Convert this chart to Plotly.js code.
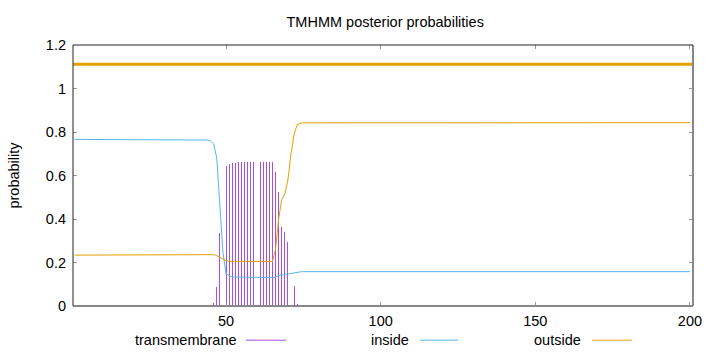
<!DOCTYPE html>
<html>
<head>
<meta charset="utf-8">
<script src="https://cdn.plot.ly/plotly-3.0.1.min.js"></script>
<style>html,body{margin:0;padding:0;background:#fff;}#chart{width:720px;height:352px;}</style>
</head>
<body>
<div id="chart"></div>
<script>
// ---- data ----
const seriesNames = ["transmembrane", "inside", "outside"];

// transmembrane posterior (impulses)
const tmX = [44,45,46,47,48,49,50,51,52,53,54,55,56,57,58,59,60,61,62,63,64,65,66,67,68,69,70,71,72,73,74];
const tmY = [0.003,0.005,0.012,0.088,0.335,0.54,0.644,0.655,0.658,0.659,0.661,0.661,0.661,0.661,0.662,0.664,0.664,0.664,0.664,0.664,0.664,0.662,0.616,0.525,0.365,0.342,0.292,0.19,0.091,0.01,0.003];

// inside posterior
const inX = [1,42,43,44,45,46,47,48,49,50,51,52,65,66,67,68,69,70,71,72,73,74,75,200];
const inY = [0.766,0.766,0.765,0.763,0.758,0.745,0.68,0.44,0.245,0.148,0.139,0.133,0.131,0.133,0.140,0.144,0.145,0.147,0.150,0.153,0.156,0.157,0.158,0.158];

// outside posterior
const outX = [1,44,45,46,47,48,49,50,51,52,65,66,67,68,69,70,71,72,73,74,75,200];
const outY = [0.234,0.234,0.235,0.236,0.232,0.225,0.215,0.208,0.206,0.205,0.205,0.26,0.40,0.49,0.515,0.58,0.70,0.79,0.834,0.84,0.842,0.843];

// predicted topology bar (outside over the whole sequence)
const topoX = [0.5, 201];
const topoY = [1.111, 1.111];

const xTicks = [50, 100, 150, 200];
const yTicks = [0, 0.2, 0.4, 0.6, 0.8, 1, 1.2];
const yTickText = ["0", "0.2", "0.4", "0.6", "0.8", "1", "1.2"];

// ---- style ----
const colTM = "#a94fe0";
const colIn = "#56b4e9";
const colOut = "#e69f00";
const FONT = "Liberation Sans, Arial, sans-serif";
const FS = 14.5;

const traces = [
  {type: "bar", x: tmX, y: tmY, width: 0.3, name: seriesNames[0],
   marker: {color: colTM, line: {width: 0}}, showlegend: false, hoverinfo: "x+y"},
  {type: "scatter", mode: "lines", x: inX, y: inY, name: seriesNames[1],
   line: {color: colIn, width: 1}, showlegend: false},
  {type: "scatter", mode: "lines", x: outX, y: outY, name: seriesNames[2],
   line: {color: colOut, width: 1}, showlegend: false},
  {type: "scatter", mode: "lines", x: topoX, y: topoY, name: "topology",
   line: {color: colOut, width: 3}, showlegend: false}
];

// legend (text left of sample line), in paper coordinates
const legendCols = [colTM, colIn, colOut];
const legTextRight = [0.2661, 0.5435, 0.8210];
const legLine = [[0.2790, 0.3435], [0.5597, 0.6210], [0.8371, 0.9016]];
const legY = -0.131;

const annotations = seriesNames.map((n, i) => ({
  text: n, xref: "paper", yref: "paper", x: legTextRight[i], y: legY,
  xanchor: "right", yanchor: "middle", showarrow: false, borderpad: 0,
  font: {family: FONT, size: FS, color: "#000"}
}));

const shapes = [];
seriesNames.forEach((n, i) => {
  shapes.push({type: "line", xref: "paper", yref: "paper",
    x0: legLine[i][0], x1: legLine[i][1], y0: legY, y1: legY,
    line: {color: legendCols[i], width: 1}});
});
// borders: left & top black, bottom & right gray
shapes.push({type: "line", xref: "paper", yref: "paper", x0: 0, x1: 1, y0: 0, y1: 0, line: {color: "#888", width: 2}, layer: "above"});
shapes.push({type: "line", xref: "paper", yref: "paper", x0: 1, x1: 1, y0: 0, y1: 1, line: {color: "#888", width: 2}, layer: "above"});
shapes.push({type: "line", xref: "paper", yref: "paper", x0: 0, x1: 1, y0: 1, y1: 1, line: {color: "#222", width: 1}, layer: "above"});
shapes.push({type: "line", xref: "paper", yref: "paper", x0: 0, x1: 0, y0: 0, y1: 1, line: {color: "#222", width: 1}, layer: "above"});

const layout = {
  width: 720, height: 352,
  margin: {l: 73, r: 27, t: 44.5, b: 45.5, pad: 0},
  paper_bgcolor: "#fff", plot_bgcolor: "#fff",
  font: {family: FONT, size: FS, color: "#000"},
  title: {text: "TMHMM posterior probabilities", x: 0.535, xanchor: "center",
          y: 0.9375, yanchor: "middle", yref: "container",
          font: {family: FONT, size: FS, color: "#000"}},
  bargap: 0,
  xaxis: {range: [0.5, 201], tickvals: xTicks, ticktext: xTicks.map(String),
          ticks: "inside", ticklen: 4, tickcolor: "#999", tickwidth: 1,
          showline: false, mirror: "ticks", showgrid: false, zeroline: false,
          ticklabelstandoff: 4, tickfont: {family: FONT, size: FS, color: "#000"}},
  yaxis: {range: [0, 1.2], tickvals: yTicks, ticktext: yTickText,
          ticks: "inside", ticklen: 4, tickcolor: "#999", tickwidth: 1,
          showline: false, mirror: "ticks", showgrid: false, zeroline: false,
          ticklabelstandoff: 6, tickfont: {family: FONT, size: FS, color: "#000"},
          title: {text: "probability", standoff: 22, font: {family: FONT, size: FS, color: "#000"}}},
  annotations: annotations,
  shapes: shapes,
  showlegend: false
};

Plotly.newPlot("chart", traces, layout, {displayModeBar: false, staticPlot: true});
</script>
</body>
</html>
